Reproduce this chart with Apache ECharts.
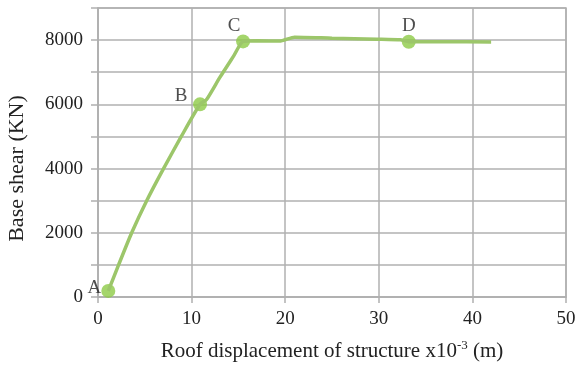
<!DOCTYPE html>
<html>
<head>
<meta charset="utf-8">
<script src="https://cdn.jsdelivr.net/npm/echarts@6/dist/echarts.min.js"></script>
<style>html,body{margin:0;padding:0;background:#fff}#c{width:579px;height:365px}</style>
</head>
<body>
<div id="c"></div>
<script>
// Pushover curve values (displacement x10^-3 m, base shear KN)
var curveX = [1.1, 2.2, 3.6, 5.2, 7.0, 8.9, 10.9, 11.6, 13.0, 14.5, 15.5, 17.0, 19.4, 21.0, 25.0, 29.8, 32.3, 33.2, 37.0, 42.0];
var curveY = [190, 1000, 2000, 3000, 4000, 5000, 6000, 6150, 6830, 7510, 7960, 7980, 7970, 8090, 8060, 8030, 8010, 7950, 7950, 7940];
// Key points
var keyNames = ['A', 'B', 'C', 'D'];
var keyX = [1.1, 10.9, 15.5, 33.2];
var keyY = [190, 6000, 7960, 7950];
// Axis ticks
var xTicks = [0, 10, 20, 30, 40, 50];
var yLabelTicks = [0, 2000, 4000, 6000, 8000];

var FONT = '"Liberation Serif", "DejaVu Serif", serif';
var GRID = '#b0b0b0';
var labelOffsets = {A: [-14, -3], B: [-19, -8], C: [-9, -15], D: [0, -16]};

var lineData = curveX.map(function (x, i) { return [x, curveY[i]]; });
var keyData = keyX.map(function (x, i) {
  return {
    value: [x, keyY[i]],
    label: {show: true, formatter: keyNames[i], offset: labelOffsets[keyNames[i]]}
  };
});

var chart = echarts.init(document.getElementById('c'));
chart.setOption({
  animation: false,
  grid: {left: 98, right: 13, top: 8, bottom: 68, show: true, borderColor: GRID, borderWidth: 1.5,
    containLabel: false, outerBoundsMode: 'none'},
  xAxis: {
    type: 'value', min: 0, max: 50, interval: 10,
    name: 'Roof displacement of structure x10{sup|-3} (m)',
    nameLocation: 'middle', nameGap: 42,
    nameTextStyle: {fontFamily: FONT, fontSize: 21, color: '#222',
      rich: {sup: {fontFamily: FONT, fontSize: 13, color: '#222', verticalAlign: 'top', padding: [0, 0, 11, 0]}}},
    axisLine: {show: true, lineStyle: {color: GRID, width: 1.5}},
    axisTick: {show: true, inside: false, length: 6, lineStyle: {color: GRID, width: 1.5}},
    axisLabel: {fontFamily: FONT, fontSize: 19, color: '#222', margin: 13,
      formatter: function (v) { return xTicks.indexOf(v) >= 0 ? String(v) : ''; }},
    splitLine: {show: true, lineStyle: {color: GRID, width: 1.5}}
  },
  yAxis: {
    type: 'value', min: 0, max: 9000, interval: 1000,
    name: 'Base shear (KN)',
    nameLocation: 'middle', nameGap: 70,
    nameTextStyle: {fontFamily: FONT, fontSize: 22, color: '#222', padding: [0, 0, 0, -32]},
    axisLine: {show: true, lineStyle: {color: GRID, width: 1.5}},
    axisTick: {show: true, inside: false, length: 7, lineStyle: {color: GRID, width: 1.5}},
    axisLabel: {fontFamily: FONT, fontSize: 19, color: '#222', margin: 15,
      formatter: function (v) { return yLabelTicks.indexOf(v) >= 0 ? String(v) : ''; }},
    splitLine: {show: true, lineStyle: {color: GRID, width: 1.5}}
  },
  series: [
    {
      type: 'line', data: lineData, smooth: 0.2, showSymbol: false,
      lineStyle: {color: '#9cc66a', width: 3.5}
    },
    {
      type: 'scatter', data: keyData, symbolSize: 14,
      itemStyle: {color: '#8dcb46'},
      label: {show: true, position: 'inside', fontFamily: FONT, fontSize: 19, color: '#222'}
    }
  ]
});
</script>
</body>
</html>
